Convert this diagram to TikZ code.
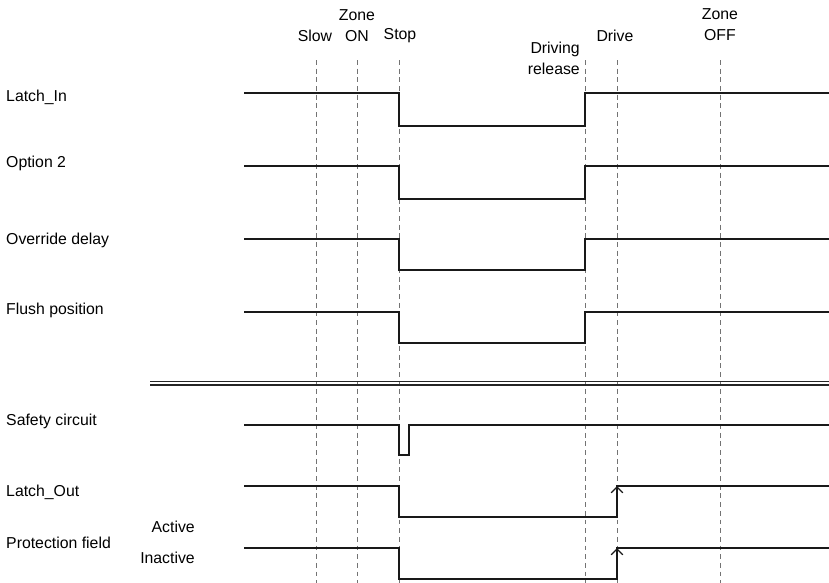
\documentclass[tikz,border=0pt]{standalone}
\usepackage{fontspec}
\setmainfont{Liberation Sans}
\usetikzlibrary{arrows.meta}

\begin{document}
\begin{tikzpicture}[
    x=0.03cm, y=-0.03cm,
    siglbl/.style={
        anchor=west,
        inner sep=0pt,
        text height=1.5ex,
        text depth=.25ex,
        font=\fontsize{13.5}{18}\selectfont
    },
    timelbl/.style={
        align=center,
        inner sep=0pt,
        font=\fontsize{13.5}{18}\selectfont
    },
    timeline/.style={
        draw=black!55,
        dash pattern=on 4.2pt off 3.2pt,
        line width=0.6pt
    },
    signal/.style={
        draw=black!90,
        line width=1.1pt,
        line join=miter
    },
    rise/.style={
        signal,
        -{Straight Barb[length=5pt, width=10pt]}
    }
]
\useasboundingbox (0,0) rectangle (829,583);

% Time marks
\coordinate (slow) at (316,60);
\coordinate (zoneon) at (357,60);
\coordinate (stop) at (399,60);
\coordinate (release) at (585,60);
\coordinate (drive) at (617,60);
\coordinate (zoneoff) at (720,60);
\coordinate (bot) at (0,583);

\foreach \t in {slow, zoneon, stop, release, drive, zoneoff}
    \draw[timeline] (\t) -- (\t |- bot);

\node (slowlbl) [timelbl] at (315,36) {Slow};
\node (zoneonlbl) [timelbl] at (357,25.5) {Zone\\ON};
\node (stoplbl) [timelbl] at (400,36) {Stop};
\node (releaselbl) [timelbl, align=right, anchor=east] at (580,58) {Driving\\release};
\node (drivelbl) [timelbl] at (615,35.5) {Drive};
\node (zoneofflbl) [timelbl] at (720,25) {Zone\\OFF};

% Signal names
\node (latchin) [siglbl] at (6,98) {Latch\_In};
\node (option) [siglbl] at (6,164) {Option 2};
\node (override) [siglbl] at (6,241) {Override delay};
\node (flush) [siglbl] at (6,311) {Flush position};
\node (safety) [siglbl] at (6,422) {Safety circuit};
\node (latchout) [siglbl] at (6,493) {Latch\_Out};
\node (protect) [siglbl] at (6,545) {Protection field};
\node (active) [siglbl, anchor=east] at (195,529) {Active};
\node (inactive) [siglbl, anchor=east] at (195,560) {Inactive};

% Input signals
\foreach \hi/\lo in {93/126, 166/199, 239/270, 312/343}
    \draw[signal] (244,\hi) -- (399,\hi) -- (399,\lo) -- (585,\lo) -- (585,\hi) -- (829,\hi);

% Separator
\draw[line width=0.9pt, black!85] (150,381.5) -- (829,381.5);
\draw[line width=0.9pt, black!85] (150,385) -- (829,385);

% Output signals
\draw[signal] (244,425) -- (399,425) -- (399,455) -- (409,455) -- (409,425) -- (829,425);
\foreach \hi/\lo in {486/517, 548/579} {
    \draw[signal] (244,\hi) -- (399,\hi) -- (399,\lo) -- (617,\lo) -- (617,\hi) -- (829,\hi);
    \draw[rise] (617,\hi+12) -- (617,\hi);
}

\end{tikzpicture}
\end{document}
